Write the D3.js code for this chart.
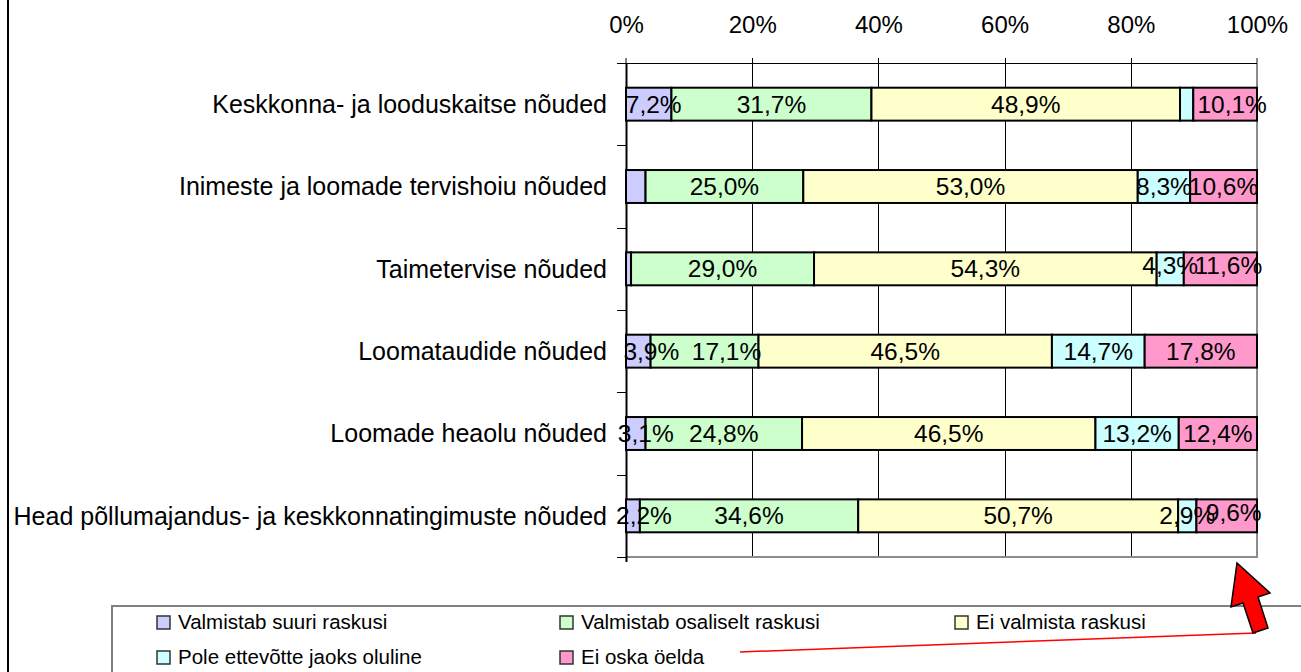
<!DOCTYPE html>
<html>
<head>
<meta charset="utf-8">
<script src="https://cdn.jsdelivr.net/npm/d3@7/dist/d3.min.js"></script>
<style>
  body { margin: 0; background: #fff; }
  svg { display: block; font-family: "Liberation Sans", Arial, sans-serif; }
</style>
</head>
<body>
<svg id="chart" width="1301" height="672"></svg>
<script>
// Chart data (percent shares per requirement group)
const categories = [
  "Keskkonna- ja looduskaitse nõuded",
  "Inimeste ja loomade tervishoiu nõuded",
  "Taimetervise nõuded",
  "Loomataudide nõuded",
  "Loomade heaolu nõuded",
  "Head põllumajandus- ja keskkonnatingimuste nõuded"
];
const seriesNames = [
  "Valmistab suuri raskusi",
  "Valmistab osaliselt raskusi",
  "Ei valmista raskusi",
  "Pole ettevõtte jaoks oluline",
  "Ei oska öelda"
];
const suuriRaskusi     = [7.2, 3.1, 0.8, 3.9, 3.1, 2.2];
const osaliseltRaskusi = [31.7, 25.0, 29.0, 17.1, 24.8, 34.6];
const eiValmista       = [48.9, 53.0, 54.3, 46.5, 46.5, 50.7];
const poleOluline      = [2.1, 8.3, 4.3, 14.7, 13.2, 2.9];
const eiOska           = [10.1, 10.6, 11.6, 17.8, 12.4, 9.6];
const xTicks = [0, 20, 40, 60, 80, 100];
// segments without a value label in the original ("row-series")
const unlabeled = ["0-3", "1-0", "2-0"];

const colors = ["#ccccff", "#ccffcc", "#ffffcc", "#ccffff", "#ff99cc"];

// small label nudges (layout only), px: [dx, dy]
const labelNudge = {
  "0-0": [5, 0], "0-4": [7, 0], "2-3": [0, -3], "2-4": [8, -3],
  "3-0": [13, 0], "3-1": [22, 0], "4-0": [10, 0], "5-0": [11, 0],
  "5-4": [7, -3]
};

const svg = d3.select("#chart");

const plot = { left: 626, right: 1257, top: 63, bottom: 557 };

const x = d3.scaleLinear().domain([0, 100]).range([plot.left, plot.right]);
const y = d3.scaleBand().domain(categories).range([plot.top, plot.bottom]).paddingInner(0.6).paddingOuter(0.3);

const rows = categories.map((c, i) => ({
  cat: c,
  s0: suuriRaskusi[i], s1: osaliseltRaskusi[i], s2: eiValmista[i], s3: poleOluline[i], s4: eiOska[i]
}));
const keys = ["s0", "s1", "s2", "s3", "s4"];
const stacked = d3.stack().keys(keys)(rows);

// frame line on the left
svg.append("line").attr("x1", 8).attr("x2", 8).attr("y1", 0).attr("y2", 672)
  .attr("stroke", "#000").attr("stroke-width", 2);

// gridlines
svg.append("g").selectAll("line")
  .data([20, 40, 60, 80])
  .join("line")
  .attr("x1", d => Math.round(x(d)) + 0.5).attr("x2", d => Math.round(x(d)) + 0.5)
  .attr("y1", plot.top - 5).attr("y2", plot.bottom)
  .attr("stroke", "#000").attr("stroke-width", 1);

// plot border right/bottom (gray)
svg.append("path")
  .attr("d", `M${x(100)},${plot.top - 5}V${plot.bottom}H${plot.left}`)
  .attr("fill", "none").attr("stroke", "#8c8c8c").attr("stroke-width", 2);

// top axis
const xAxis = d3.axisTop(x).tickValues(xTicks).tickFormat(d => d + "%").tickSize(0).tickPadding(0);
const gx = svg.append("g").attr("transform", `translate(0,${plot.top})`).call(xAxis);
gx.select(".domain").remove();
gx.selectAll("text").attr("y", -30).attr("font-size", 24).attr("fill", "#000")
  .attr("font-family", "Liberation Sans, Arial, sans-serif");
svg.append("line").attr("x1", plot.left - 9).attr("x2", x(100)).attr("y1", plot.top + 0.5).attr("y2", plot.top + 0.5)
  .attr("stroke", "#000").attr("stroke-width", 1);
svg.append("line").attr("x1", x(0)).attr("x2", x(0)).attr("y1", plot.top - 5).attr("y2", plot.top)
  .attr("stroke", "#000");

// left axis with ticks at band boundaries
const bounds = d3.range(categories.length + 1).map(i => plot.top + i * (plot.bottom - plot.top) / categories.length);
svg.append("line").attr("x1", plot.left + 0.5).attr("x2", plot.left + 0.5).attr("y1", plot.top).attr("y2", plot.bottom + 5)
  .attr("stroke", "#000").attr("stroke-width", 2);
svg.append("g").selectAll("line").data(bounds).join("line")
  .attr("x1", plot.left - 9).attr("x2", plot.left)
  .attr("y1", d => Math.round(d) + 0.5).attr("y2", d => Math.round(d) + 0.5)
  .attr("stroke", "#000");

svg.append("g").selectAll("text").data(categories).join("text")
  .attr("x", 607)
  .attr("y", d => y(d) + y.bandwidth() / 2)
  .attr("dy", "0.35em")
  .attr("text-anchor", "end")
  .attr("font-size", 25)
  .text(d => d);

// bars
const fmt = v => d3.format(".1f")(v).replace(".", ",") + "%";
const layers = svg.append("g").selectAll("g").data(stacked).join("g")
  .attr("fill", (d, i) => colors[i]);
layers.selectAll("rect").data(d => d).join("rect")
  .attr("x", d => x(d[0]))
  .attr("y", d => y(d.data.cat))
  .attr("width", d => x(d[1]) - x(d[0]))
  .attr("height", y.bandwidth())
  .attr("stroke", "#000").attr("stroke-width", 2);

// value labels
const labelG = svg.append("g");
stacked.forEach((layer, si) => {
  layer.forEach((d, ri) => {
    const id = ri + "-" + si;
    if (unlabeled.includes(id)) return;
    const [dx, dy] = labelNudge[id] || [0, 0];
    labelG.append("text")
      .attr("x", (x(d[0]) + x(d[1])) / 2 + dx)
      .attr("y", y(d.data.cat) + y.bandwidth() / 2 + dy)
      .attr("dy", "0.35em")
      .attr("text-anchor", "middle")
      .attr("font-size", 24.5)
      .text(fmt(d[1] - d[0]));
  });
});

// legend
svg.append("rect").attr("x", 112).attr("y", 606).attr("width", 1250).attr("height", 100)
  .attr("fill", "#fff").attr("stroke", "#808080").attr("stroke-width", 2);
const legendPos = [[157, 622], [560, 622], [955, 622], [157, 657], [560, 657]];
const leg = svg.append("g").selectAll("g").data(seriesNames).join("g")
  .attr("transform", (d, i) => `translate(${legendPos[i][0]},${legendPos[i][1]})`);
leg.append("rect").attr("x", 0).attr("y", -6).attr("width", 13).attr("height", 13)
  .attr("fill", (d, i) => colors[i]).attr("stroke", "#333").attr("stroke-width", 1.5);
leg.append("text").attr("x", 21).attr("y", 0).attr("dy", "0.35em")
  .attr("font-size", 20.5).text(d => d);

// red pointer annotation
svg.append("line").attr("x1", 740).attr("y1", 652).attr("x2", 1256).attr("y2", 633)
  .attr("stroke", "#ff0000").attr("stroke-width", 1.5);
svg.append("polygon")
  .attr("points", "1237,563 1270,593 1258,597 1268,628 1253,633 1243,603 1231,607")
  .attr("fill", "#ff0000").attr("stroke", "#000").attr("stroke-width", 1.5);
</script>
</body>
</html>
